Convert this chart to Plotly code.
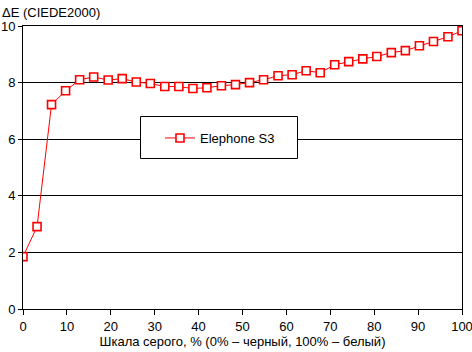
import plotly.graph_objects as go

gray_pct = [0, 3.2, 6.5, 9.7, 12.9, 16.1, 19.4, 22.6, 25.8, 29.0, 32.3, 35.5, 38.7, 41.9,
            45.2, 48.4, 51.6, 54.8, 58.1, 61.3, 64.5, 67.7, 71.0, 74.2, 77.4, 80.6, 83.9,
            87.1, 90.3, 93.5, 96.8, 100]
delta_e = [1.85, 2.91, 7.22, 7.71, 8.10, 8.20, 8.09, 8.14, 8.02, 7.97, 7.86, 7.86, 7.79,
           7.82, 7.89, 7.93, 8.00, 8.10, 8.24, 8.28, 8.42, 8.35, 8.63, 8.74, 8.84, 8.92,
           9.06, 9.13, 9.30, 9.45, 9.62, 9.83]
series_name = "Elephone S3"
x_ticks = [0, 10, 20, 30, 40, 50, 60, 70, 80, 90, 100]
y_ticks = [0, 2, 4, 6, 8, 10]
y_title = "ΔE (CIEDE2000)"
x_title = "Шкала серого, % (0% – черный, 100% – белый)"

FONT = "Arial, Liberation Sans, sans-serif"
FS = 13

fig = go.Figure()
fig.add_trace(go.Scatter(
    x=gray_pct, y=delta_e, name=series_name, mode="lines+markers",
    line=dict(color="#ff0000", width=1),
    marker=dict(symbol="square", size=8, color="white",
                line=dict(color="#ff0000", width=1.6)),
))

W, H = 472, 352
ml, mr, mt, mb = 23, 10, 26, 43
pw, ph = W - ml - mr, H - mt - mb

def px(x):
    return (x - ml) / pw

def py(y):
    return (H - mb - y) / ph

fig.update_layout(
    width=W, height=H,
    margin=dict(l=ml, r=mr, t=mt, b=mb, pad=0),
    paper_bgcolor="white", plot_bgcolor="white",
    font=dict(family=FONT, size=FS, color="black"),
    showlegend=True,
    legend=dict(x=px(160), y=py(138), xanchor="left", yanchor="middle",
                bgcolor="rgba(0,0,0,0)", borderwidth=0,
                font=dict(family=FONT, size=FS, color="black")),
    xaxis=dict(range=[0, 100], tickvals=x_ticks, showgrid=False, zeroline=False,
               showline=True, linecolor="black", linewidth=1, mirror=True,
               ticks="outside", ticklen=5, tickcolor="black", automargin=False,
               ticklabeloverflow="allow",
               title=dict(text=x_title, standoff=4, font=dict(size=FS))),
    yaxis=dict(range=[0, 10], tickvals=y_ticks, showgrid=True, gridcolor="black",
               gridwidth=1, zeroline=False, showline=True, linecolor="black",
               linewidth=1, mirror=True, ticks="outside", ticklen=4, tickcolor="black",
               automargin=False, ticklabeloverflow="allow"),
    shapes=[dict(type="rect", xref="paper", yref="paper",
                 x0=px(140.5), x1=px(297.5), y0=py(158.5), y1=py(116.5),
                 fillcolor="white", line=dict(color="black", width=1), layer="above")],
    annotations=[dict(text=y_title, xref="paper", yref="paper", x=px(0), y=py(12),
                      xanchor="left", yanchor="middle", showarrow=False,
                      font=dict(family=FONT, size=FS))],
)

fig.write_html("out.html")
